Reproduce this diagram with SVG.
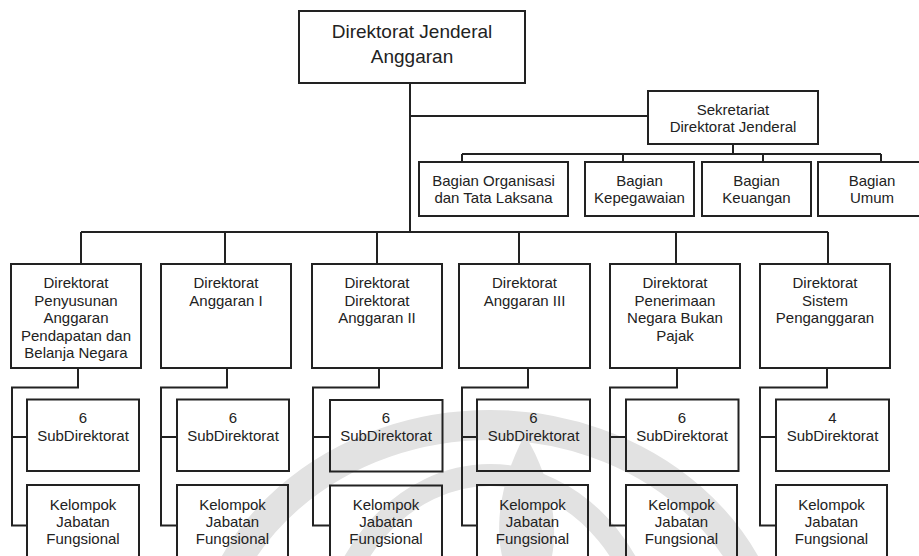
<svg xmlns="http://www.w3.org/2000/svg" width="919" height="556" viewBox="0 0 919 556">
<style>
.box{fill:none;stroke:#222;stroke-width:2}
.ln{fill:none;stroke:#222;stroke-width:2}
text{font-family:"Liberation Sans",Arial,sans-serif;font-size:15px;fill:#222;text-anchor:middle}
.big{font-size:19px}
.wm{fill:none;stroke:#e2e2e2}
</style>
<rect width="919" height="556" fill="#fff"/>
<g id="watermark">
<ellipse class="wm" cx="490" cy="675" rx="285" ry="250" stroke-width="30"/>
<ellipse class="wm" cx="490" cy="675" rx="165" ry="200" stroke-width="22"/>
<path d="M525 435 C552 480 558 525 552 556 L502 556 C495 525 500 480 525 435 Z" fill="#e2e2e2"/>
</g>
<g id="connectors">
<path class="ln" d="M410 83V232M410 116H648"/>
<path class="ln" d="M733 144V154M462 154H881M462 154V162M623 154V162M763 154V162M881 154V162"/>
<path class="ln" d="M81 232H828M81 232V264M225 232V264M377 232V264M519 232V264M676 232V264M828 232V264"/>
<path class="ln" d="M78 368V387.5H12V525.5H28M12 437H27"/>
<path class="ln" d="M227 368V387.5H161V525.5H177M161 437H177"/>
<path class="ln" d="M379 368V387.5H313V525.5H330M313 437H330"/>
<path class="ln" d="M528 368V387.5H462V525.5H477M462 437H477"/>
<path class="ln" d="M677 368V387.5H610V525.5H626M610 437H626"/>
<path class="ln" d="M827 368V387.5H760V525.5H776M760 437H776"/>
</g>
<g id="dirjen"><rect class="box" x="299" y="11" width="226" height="72"/><text class="big" x="412" y="38">Direktorat Jenderal</text><text class="big" x="412" y="63">Anggaran</text></g>
<g id="sekretariat"><rect class="box" x="648" y="91" width="170" height="53"/><text x="733" y="115">Sekretariat</text><text x="733" y="132">Direktorat Jenderal</text></g>
<g id="bagian-organisasi"><rect class="box" x="419" y="162" width="149" height="54"/><text x="493.5" y="186">Bagian Organisasi</text><text x="493.5" y="203">dan Tata Laksana</text></g>
<g id="bagian-kepegawaian"><rect class="box" x="585" y="162" width="109" height="54"/><text x="639.5" y="186">Bagian</text><text x="639.5" y="203">Kepegawaian</text></g>
<g id="bagian-keuangan"><rect class="box" x="702" y="162" width="109" height="54"/><text x="756.5" y="186">Bagian</text><text x="756.5" y="203">Keuangan</text></g>
<g id="bagian-umum"><rect class="box" x="818" y="162" width="109" height="54"/><text x="872" y="186">Bagian</text><text x="872" y="203">Umum</text></g>
<g id="dir-apbn"><rect class="box" x="11" y="264" width="130" height="104"/><text x="76" y="288">Direktorat</text><text x="76" y="305.5">Penyusunan</text><text x="76" y="323">Anggaran</text><text x="76" y="340.5">Pendapatan dan</text><text x="76" y="358">Belanja Negara</text></g>
<g id="dir-anggaran-1"><rect class="box" x="161" y="264" width="130" height="104"/><text x="226" y="288">Direktorat</text><text x="226" y="305.5">Anggaran I</text></g>
<g id="dir-anggaran-2"><rect class="box" x="312" y="264" width="130" height="104"/><text x="377" y="288">Direktorat</text><text x="377" y="305.5">Direktorat</text><text x="377" y="323">Anggaran II</text></g>
<g id="dir-anggaran-3"><rect class="box" x="459" y="264" width="131" height="104"/><text x="524.5" y="288">Direktorat</text><text x="524.5" y="305.5">Anggaran III</text></g>
<g id="dir-pnbp"><rect class="box" x="610" y="264" width="130" height="104"/><text x="675" y="288">Direktorat</text><text x="675" y="305.5">Penerimaan</text><text x="675" y="323">Negara Bukan</text><text x="675" y="340.5">Pajak</text></g>
<g id="dir-sistem"><rect class="box" x="760" y="264" width="130" height="104"/><text x="825" y="288">Direktorat</text><text x="825" y="305.5">Sistem</text><text x="825" y="323">Penganggaran</text></g>
<g id="sub-1"><rect class="box" x="27" y="399.5" width="112" height="71.5"/><text x="83" y="423">6</text><text x="83" y="441">SubDirektorat</text></g>
<g id="sub-2"><rect class="box" x="177" y="399.5" width="112" height="71.5"/><text x="233" y="423">6</text><text x="233" y="441">SubDirektorat</text></g>
<g id="sub-3"><rect class="box" x="330" y="400" width="112.5" height="71.5"/><text x="386" y="423">6</text><text x="386" y="441">SubDirektorat</text></g>
<g id="sub-4"><rect class="box" x="477" y="399.5" width="113" height="71.5"/><text x="533.5" y="423">6</text><text x="533.5" y="441">SubDirektorat</text></g>
<g id="sub-5"><rect class="box" x="626" y="399.5" width="112.5" height="71.5"/><text x="682" y="423">6</text><text x="682" y="441">SubDirektorat</text></g>
<g id="sub-6"><rect class="box" x="776" y="399.5" width="113" height="71.5"/><text x="832.5" y="423">4</text><text x="832.5" y="441">SubDirektorat</text></g>
<g id="jf-1"><rect class="box" x="27" y="485" width="112" height="100"/><text x="83" y="510">Kelompok</text><text x="83" y="527">Jabatan</text><text x="83" y="544">Fungsional</text></g>
<g id="jf-2"><rect class="box" x="177" y="485" width="111" height="100"/><text x="232.5" y="510">Kelompok</text><text x="232.5" y="527">Jabatan</text><text x="232.5" y="544">Fungsional</text></g>
<g id="jf-3"><rect class="box" x="330" y="485.5" width="112" height="100"/><text x="386" y="510">Kelompok</text><text x="386" y="527">Jabatan</text><text x="386" y="544">Fungsional</text></g>
<g id="jf-4"><rect class="box" x="477" y="485" width="111" height="100"/><text x="532.5" y="510">Kelompok</text><text x="532.5" y="527">Jabatan</text><text x="532.5" y="544">Fungsional</text></g>
<g id="jf-5"><rect class="box" x="626" y="485" width="111" height="100"/><text x="681.5" y="510">Kelompok</text><text x="681.5" y="527">Jabatan</text><text x="681.5" y="544">Fungsional</text></g>
<g id="jf-6"><rect class="box" x="776" y="485" width="111" height="100"/><text x="831.5" y="510">Kelompok</text><text x="831.5" y="527">Jabatan</text><text x="831.5" y="544">Fungsional</text></g>
</svg>
